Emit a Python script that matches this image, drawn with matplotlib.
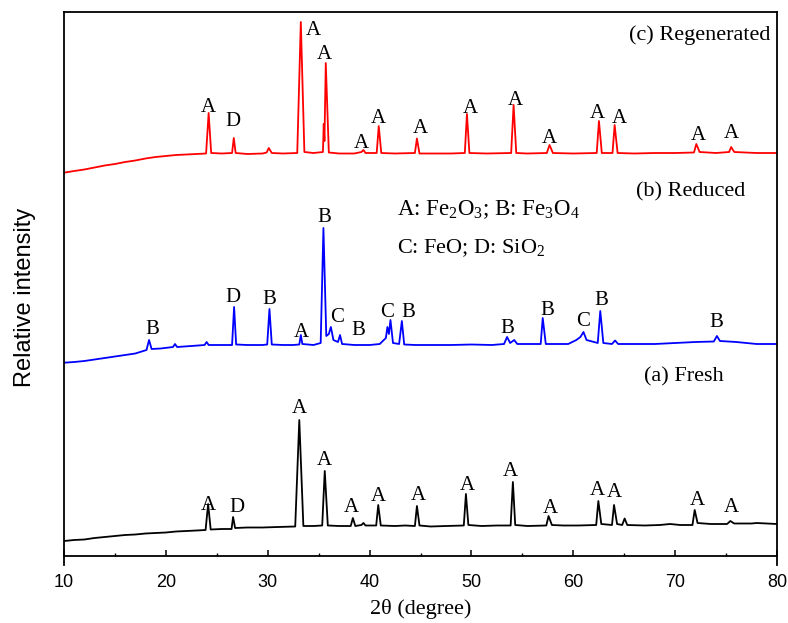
import matplotlib
matplotlib.use("Agg")
import matplotlib.pyplot as plt
from matplotlib.ticker import MultipleLocator

plt.rcParams['mathtext.fontset'] = 'custom'
plt.rcParams['mathtext.rm'] = 'Liberation Serif'
plt.rcParams['mathtext.it'] = 'Liberation Serif:italic'

# (a) Fresh -- 2theta / relative intensity points
fresh_x = [10.0, 11.0, 12.0, 13.0, 14.0, 15.0, 16.0, 17.0, 18.0, 19.0, 20.0, 21.0, 22.0, 23.0,
           23.9, 24.15, 24.4, 25.5, 26.45, 26.6, 26.8, 28.0, 29.5, 31.0, 32.7, 33.1, 33.5, 34.5,
           35.35, 35.6, 35.9, 37.0, 38.15, 38.36, 38.6, 39.2, 39.4, 39.6, 40.65, 40.85, 41.1, 42.5,
           43.5, 44.45, 44.65, 44.9, 46.0, 47.5, 49.25, 49.46, 49.7, 51.0, 52.5, 53.85, 54.07, 54.3,
           55.5, 57.35, 57.57, 57.9, 59.0, 60.5, 62.25, 62.46, 62.75, 63.8, 64.0, 64.3, 64.8, 65.04,
           65.3, 67.0, 68.5, 69.5, 70.5, 71.7, 71.92, 72.2, 73.5, 75.1, 75.42, 75.8, 77.5, 78.0, 80.0]
fresh_y = [15, 16, 16.5, 18, 19, 20, 21, 21.5, 22.5, 23, 23.5, 24.5, 25, 25.5,
           26, 52, 26.5, 27, 27, 39, 28, 28.5, 28.5, 29, 29.5, 136, 30, 30,
           30.5, 85, 30.5, 30, 30, 38, 30, 31, 33, 30.5, 30.5, 51, 30.5, 30,
           30.5, 30, 50, 30.5, 29.5, 30, 30.5, 62, 31, 30, 30.5, 30.5, 74, 31,
           30, 30.5, 40, 31, 30.5, 30.5, 31, 55, 32, 31, 51, 32, 31, 37.5,
           31, 30.5, 31, 32, 31, 31, 46, 33, 32, 32, 35, 32.5, 32.5, 33, 32]

# (b) Reduced
reduced_x = [10, 11, 12, 13, 14, 15, 16, 17, 18.1, 18.35, 18.6, 19.5, 20.7, 20.9, 21.1, 22.5,
             23.8, 24.0, 24.2, 25.5, 26.5, 26.7, 26.9, 28, 29.5, 29.95, 30.17, 30.4, 31.5, 32.5,
             33.1, 33.25, 33.4, 34.5, 35.2, 35.47, 35.75, 36.0, 36.2, 36.45, 36.9, 37.1, 37.3, 38.5,
             40, 41.0, 41.6, 41.75, 41.9, 42.05, 42.3, 42.9, 43.17, 43.4, 44.5, 46, 48, 50, 52,
             53.2, 53.5, 53.8, 54.2, 54.5, 56.8, 57.0, 57.3, 59.5, 60.3, 60.7, 61.0, 61.3, 62.4,
             62.65, 62.95, 63.8, 64.1, 64.4, 66, 68, 70, 72, 73.8, 74.1, 74.4, 76, 78, 80]
reduced_y = [13.3, 14, 15, 16.5, 18, 19.5, 21, 22.5, 26, 36, 27, 27.5, 29, 32, 29, 30,
             31, 34, 31, 31, 31, 69, 31.5, 31, 31, 31.5, 67, 31.5, 31, 31,
             31.5, 41, 32, 31, 33, 148, 40, 42, 49, 36, 34, 41, 32, 31,
             31, 32, 38, 49, 42, 56, 33, 32, 55, 31.5, 31, 31, 31, 31.5, 31,
             32, 39, 33, 36, 32, 32, 58, 32, 32, 36, 39, 44, 36, 33,
             65, 33, 32, 35.5, 32, 32, 32, 33, 34, 34.5, 40, 35, 34, 32, 32]

# (c) Regenerated
regen_x = [10, 11, 12, 13, 14, 15, 16, 17, 18, 19, 20, 21, 22, 23, 23.95, 24.2, 24.45, 25.5,
           26.5, 26.67, 26.85, 28, 29.5, 29.9, 30.1, 30.4, 31.5, 32.9, 33.25, 33.6, 34.5, 35.42,
           35.5, 35.57, 35.7, 36.0, 37.0, 38.5, 39.2, 39.4, 39.6, 40.7, 40.9, 41.15, 42.5, 44.45,
           44.65, 44.9, 46.5, 48, 49.35, 49.56, 49.8, 51.5, 53.9, 54.14, 54.4, 55.5, 57.4, 57.67,
           58.0, 60, 62.3, 62.52, 62.8, 63.85, 64.06, 64.35, 66, 68, 70, 71.85, 72.08, 72.4, 74,
           75.3, 75.5, 75.8, 78, 80]
regen_y = [13.3, 15, 16.5, 18.5, 20.5, 22, 24, 25.5, 27.5, 29, 30, 31, 31.5, 32, 32.5, 73, 33, 32.5,
           33, 48, 33, 32, 32.5, 33.5, 38, 33, 32.5, 33, 164, 34, 33, 34,
           62, 45, 123, 33.5, 32.5, 32.5, 34, 36, 33, 33, 60, 33, 32.5, 33,
           47.5, 32.5, 32.5, 32.5, 33, 72, 33, 32.5, 33, 81, 33, 32.5, 33, 41,
           33, 32.5, 33, 65, 33, 33, 61, 33, 32.5, 33, 33, 33.5, 42, 34, 33,
           34, 39, 34, 33, 33]

offsets = [0, 180, 370]

# phase letters: (2theta, height above the pattern's own zero, letter)
fresh_lab_x = [24.15, 26.96, 33.13, 35.61, 38.26, 40.84, 44.77, 49.64, 53.81, 57.74, 62.41, 64.03, 72.15, 75.5]
fresh_lab_y = [46, 44.3, 143.3, 91, 44.3, 55.3, 56, 66, 80, 42.7, 61, 58.7, 51, 44.3]
fresh_lab = ['A', 'D', 'A', 'A', 'A', 'A', 'A', 'A', 'A', 'A', 'A', 'A', 'A', 'A']

reduced_lab_x = [18.69, 26.55, 30.14, 33.26, 35.51, 36.79, 38.85, 41.7, 43.82, 53.49, 57.43, 60.93, 62.72, 74.05]
reduced_lab_y = [42, 74.3, 72, 38.7, 154.3, 54.3, 41, 59.3, 58.7, 43.3, 61, 50, 71, 48.7]
reduced_lab = ['B', 'D', 'B', 'A', 'B', 'C', 'B', 'C', 'B', 'B', 'B', 'C', 'B', 'B']

regen_lab_x = [24.15, 26.6, 34.46, 35.61, 39.17, 40.84, 44.97, 49.88, 54.3, 57.64, 62.36, 64.52, 72.28, 75.52]
regen_lab_y = [74.3, 60, 151, 126.7, 37.7, 62.7, 53.3, 72.7, 80.7, 42.7, 67.7, 63.3, 46, 47.7]
regen_lab = ['A', 'D', 'A', 'A', 'A', 'A', 'A', 'A', 'A', 'A', 'A', 'A', 'A', 'A']

serif = 'Liberation Serif'
sans = 'Liberation Sans'

fig = plt.figure(figsize=(7.88, 6.23), dpi=100)
ax = fig.add_axes([64/788, 58/623, 713/788, 553/623])

series = [(fresh_x, fresh_y, 'black', fresh_lab_x, fresh_lab_y, fresh_lab),
          (reduced_x, reduced_y, '#0000ff', reduced_lab_x, reduced_lab_y, reduced_lab),
          (regen_x, regen_y, '#ff0000', regen_lab_x, regen_lab_y, regen_lab)]

for (xs, ys, col, lx, ly, ll), off in zip(series, offsets):
    ax.plot(xs, [v + off for v in ys], color=col, lw=1.3)
    for x, y, s in zip(lx, ly, ll):
        ax.text(x, y + off, s, ha='center', va='baseline', fontsize=15, family=serif)

ax.text(79.35, 516, '(c) Regenerated', ha='right', va='baseline', fontsize=16, family=serif)
ax.text(76.9, 360, '(b) Reduced', ha='right', va='baseline', fontsize=16, family=serif)
ax.text(74.73, 174.3, '(a) Fresh', ha='right', va='baseline', fontsize=16, family=serif)
ax.text(42.7, 341, r'A: Fe$_2$O$_3$; B: Fe$_3$O$_4$', ha='left', va='baseline', fontsize=16.5, family=serif)
ax.text(42.7, 303, r'C: FeO; D: SiO$_2$', ha='left', va='baseline', fontsize=16, family=serif)

ax.set_xlim(10, 80)
ax.set_ylim(-9, 544)
ax.spines['bottom'].set_position(('data', 0))
for sp in ax.spines.values():
    sp.set_linewidth(1.3)
ax.set_yticks([])
ax.xaxis.set_major_locator(MultipleLocator(10))
ax.xaxis.set_minor_locator(MultipleLocator(5))
ax.tick_params(axis='x', which='major', direction='in', length=4, width=1.1, pad=13, labelsize=13)
ax.tick_params(axis='x', which='minor', direction='in', length=2.5, width=1)
for lab in ax.get_xticklabels():
    lab.set_family(sans)

fig.text(421/788, 1 - 614/623, '2\u03b8 (degree)', ha='center', va='baseline', fontsize=16, family=serif)
fig.text(25/788, 1 - 297/623, 'Relative intensity', ha='center', va='center', rotation=90,
         fontsize=17, family=sans)

fig.savefig('out.png', dpi=100)
